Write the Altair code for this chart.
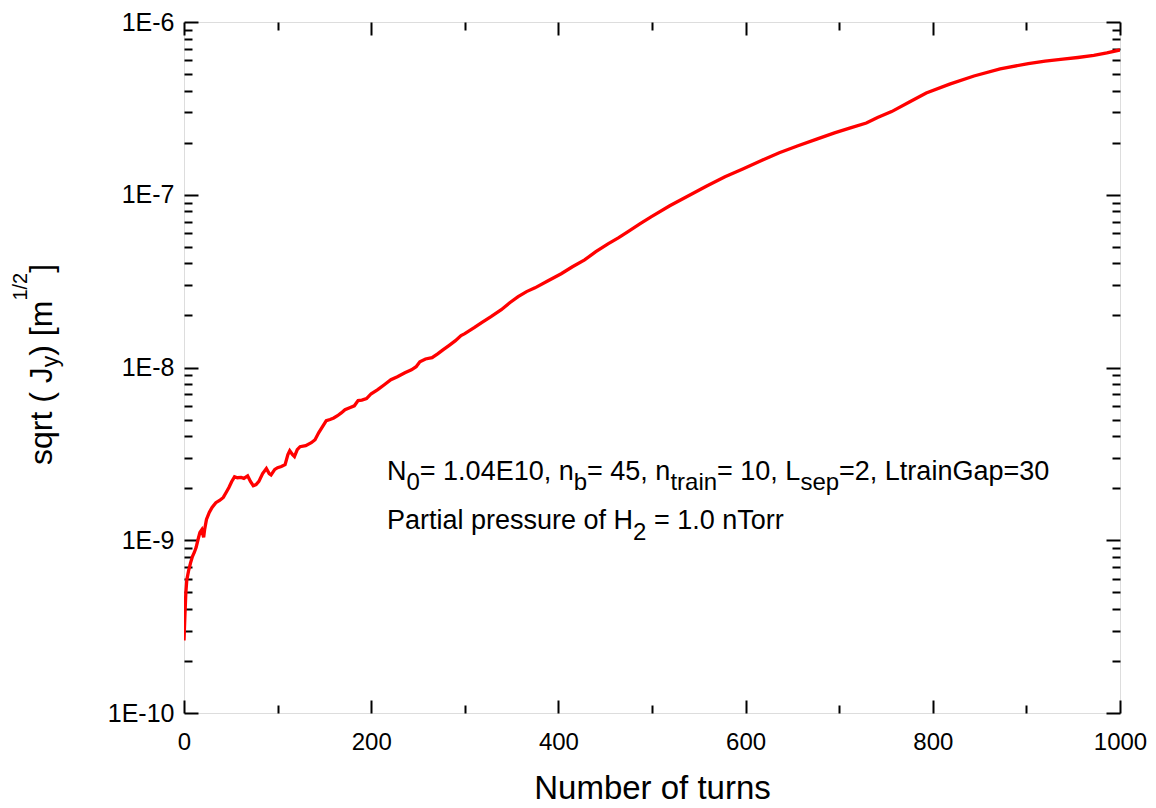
import altair as alt
import pandas as pd

# ---- data ----
turns = [0, 1, 2, 3, 5, 7, 9, 11, 13, 15, 17, 19, 21, 22, 24, 27, 30, 34, 38, 42,
         45, 48, 51, 54, 57, 61, 64, 68, 71, 74, 77, 80, 84, 88, 91, 93, 97, 100,
         104, 108, 111, 113, 116, 118, 121, 124, 130, 136, 140, 144, 148, 152, 156,
         160, 164, 168, 172, 177, 182, 186, 190, 195, 200, 207, 214, 221, 228, 236,
         243, 248, 252, 258, 265, 271, 277, 283, 290, 296, 300, 310, 318, 328, 339,
         348, 357, 366, 375, 389, 403, 415, 428, 440, 453, 464, 474, 487, 499, 519,
         539, 558, 578, 597, 617, 636, 656, 676, 695, 712, 729, 741, 756, 775, 793,
         818, 844, 872, 902, 920, 939, 955, 972, 986, 1000]
jy = [2.63e-10, 3.7e-10, 5.0e-10, 5.9e-10, 6.7e-10, 7.4e-10, 8.05e-10, 8.5e-10,
      9.1e-10, 1.01e-9, 1.11e-9, 1.15e-9, 1.04e-9, 1.15e-9, 1.32e-9, 1.45e-9,
      1.55e-9, 1.65e-9, 1.70e-9, 1.77e-9, 1.89e-9, 2.02e-9, 2.19e-9, 2.33e-9,
      2.30e-9, 2.31e-9, 2.28e-9, 2.36e-9, 2.19e-9, 2.07e-9, 2.10e-9, 2.19e-9,
      2.43e-9, 2.60e-9, 2.43e-9, 2.39e-9, 2.57e-9, 2.63e-9, 2.67e-9, 2.74e-9,
      3.13e-9, 3.30e-9, 3.13e-9, 3.05e-9, 3.35e-9, 3.48e-9, 3.53e-9, 3.67e-9,
      3.82e-9, 4.20e-9, 4.55e-9, 4.92e-9, 5.00e-9, 5.10e-9, 5.26e-9, 5.46e-9,
      5.70e-9, 5.85e-9, 6.00e-9, 6.43e-9, 6.47e-9, 6.60e-9, 7.05e-9, 7.44e-9,
      7.95e-9, 8.50e-9, 8.85e-9, 9.33e-9, 9.70e-9, 1.01e-8, 1.08e-8, 1.12e-8,
      1.14e-8, 1.20e-8, 1.27e-8, 1.34e-8, 1.43e-8, 1.53e-8, 1.57e-8, 1.70e-8,
      1.82e-8, 1.97e-8, 2.16e-8, 2.37e-8, 2.57e-8, 2.75e-8, 2.89e-8, 3.18e-8,
      3.49e-8, 3.83e-8, 4.20e-8, 4.68e-8, 5.20e-8, 5.63e-8, 6.10e-8, 6.79e-8,
      7.45e-8, 8.63e-8, 9.86e-8, 1.12e-7, 1.27e-7, 1.41e-7, 1.58e-7, 1.75e-7,
      1.92e-7, 2.10e-7, 2.28e-7, 2.44e-7, 2.60e-7, 2.80e-7, 3.03e-7, 3.44e-7,
      3.88e-7, 4.37e-7, 4.87e-7, 5.35e-7, 5.75e-7, 5.94e-7, 6.10e-7, 6.23e-7,
      6.40e-7, 6.62e-7, 6.89e-7]

x_major = [0, 200, 400, 600, 800, 1000]
x_all_ticks = [0, 100, 200, 300, 400, 500, 600, 700, 800, 900, 1000]
y_decades = [1e-10, 1e-9, 1e-8, 1e-7, 1e-6]
y_all_ticks = [m * d for d in [1e-10, 1e-9, 1e-8, 1e-7] for m in range(1, 10)] + [1e-6]

# text pieces: kind "n" normal, "sub" subscript, "sup" superscript, "sp" blank gap
ytitle_parts = [("sqrt ( J", "n"), ("y", "sub"), (")", "n"), (" ", "sp"), ("[m", "n"),
                ("1/2", "sup"), ("]", "n")]
ann_line1 = [("N", "n"), ("0", "sub"), ("= 1.04E10, n", "n"), ("b", "sub"),
             ("= 45, n", "n"), ("train", "sub"), ("= 10, L", "n"), ("sep", "sub"),
             ("=2, LtrainGap=30", "n")]
ann_line2 = [("Partial pressure of H", "n"), ("2", "sub"), (" ", "sp"),
             ("= 1.0 nTorr", "n")]

df = pd.DataFrame({"turn": turns, "jy": jy})
one = pd.DataFrame({"k": [0]})

W, H = 936, 691
FONT = "Liberation Sans"

# Arial / Liberation Sans advance widths (per 1000 em) for text layout
ADV = {" ": 278, "=": 584, ".": 278, ",": 278, "/": 278, "(": 333, ")": 333,
       "[": 278, "]": 278, "E": 667, "N": 722, "L": 556, "G": 778, "H": 722,
       "P": 667, "T": 611, "J": 500, "a": 556, "b": 556, "e": 556, "i": 222,
       "n": 556, "o": 556, "p": 556, "r": 333, "s": 500, "t": 278, "u": 556,
       "f": 278, "l": 222, "m": 833, "q": 556, "y": 500}


def adv(s, size):
    return sum(ADV.get(c, 556) for c in s) * size / 1000.0


xscale = alt.Scale(domain=[0, 1000], nice=False, zero=False)
yscale = alt.Scale(type="log", domain=[1e-10, 1e-6], nice=False)

xtick = alt.ExprRef(expr="datum.value % 200 === 0 ? 13 : 8")
ytick = alt.ExprRef(expr="abs(log(datum.value)/LN10 - round(log(datum.value)/LN10)) < 0.001 ? 14 : 8")


def tick_axis(orient, offset, values, size):
    return alt.Axis(orient=orient, offset=offset, values=values, labels=False,
                    domain=False, grid=False, ticks=True, tickSize=size,
                    tickWidth=2, tickColor="black", title=None)


main = alt.Chart(df).mark_line(color="#ff0000", strokeWidth=3.3, clip=True).encode(
    x=alt.X("turn:Q", scale=xscale,
            axis=alt.Axis(orient="bottom", values=x_major, format="d", ticks=False,
                          domain=False, grid=False, labelFont=FONT, labelFontSize=24,
                          labelColor="black", labelPadding=17, labelFlush=False,
                          title="Number of turns", titleFont=FONT, titleFontSize=33,
                          titleFontWeight="normal", titleColor="black", titlePadding=18)),
    y=alt.Y("jy:Q", scale=yscale,
            axis=alt.Axis(orient="left", values=y_decades, ticks=False, domain=False,
                          grid=False, labelFont=FONT, labelFontSize=25, labelColor="black",
                          labelPadding=10, labelFlush=False,
                          labelExpr="'1E' + round(log(datum.value)/LN10)", title=None)),
)

ticks_a = alt.Chart(df).mark_line(strokeOpacity=0).encode(
    x=alt.X("turn:Q", scale=xscale, axis=tick_axis("top", -H, x_all_ticks, xtick)),
    y=alt.Y("jy:Q", scale=yscale, axis=tick_axis("right", -W, y_all_ticks, ytick)),
)
ticks_b = alt.Chart(df).mark_line(strokeOpacity=0).encode(
    x=alt.X("turn:Q", scale=xscale, axis=tick_axis("bottom", -H, x_all_ticks, xtick)),
    y=alt.Y("jy:Q", scale=yscale, axis=tick_axis("left", -W, y_all_ticks, ytick)),
)


def txt(s, x, y, size, angle=0):
    kw = dict(text=s, font=FONT, fontSize=size, color="black", align="left",
              baseline="alphabetic")
    if angle:
        kw["angle"] = angle
    return alt.Chart(one).mark_text(**kw).encode(x=alt.value(x), y=alt.value(y))


def horiz_line(parts, x0, base, size, sub_size, sub_shift):
    out, x = [], x0
    for s, kind in parts:
        if kind == "sub":
            out.append(txt(s, x, base + sub_shift, sub_size))
            x += adv(s, sub_size)
        elif kind == "sp":
            x += adv(s, size)
        else:
            out.append(txt(s, x, base, size))
            x += adv(s, size)
    return out


def vert_title(parts, base_x, y0, size, sub_size, sup_size):
    out, y = [], y0
    for s, kind in parts:
        if kind == "sub":
            out.append(txt(s, base_x + 6, y, sub_size, 270))
            y -= adv(s, sub_size)
        elif kind == "sup":
            out.append(txt(s, base_x - 25, y, sup_size, 270))
            y -= adv(s, sup_size)
        elif kind == "sp":
            y -= adv(s, size)
        else:
            out.append(txt(s, base_x, y, size, 270))
            y -= adv(s, size)
    return out


ytitle = vert_title(ytitle_parts, -132, 443, 32, 23, 20)
ann = (horiz_line(ann_line1, 203, 458, 27, 24, 10)
       + horiz_line(ann_line2, 203, 507, 27, 24, 11))

chart = alt.layer(main, ticks_a, ticks_b, *ytitle, *ann).resolve_axis(
    x="independent", y="independent"
).properties(
    width=W, height=H,
    autosize=alt.AutoSizeParams(type="none"),
    padding={"left": 176, "top": 14, "right": 28, "bottom": 93},
).configure_view(stroke="black", strokeWidth=2).configure(background="white")

chart.save("out.html", embed_options={"renderer": "svg", "actions": False})
